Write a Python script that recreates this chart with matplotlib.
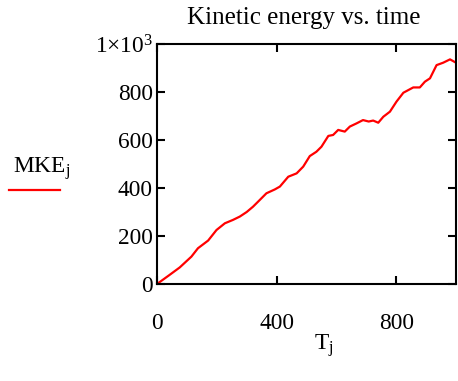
import numpy as np
import matplotlib
matplotlib.use("Agg")
import matplotlib.pyplot as plt

plt.rcParams['font.family'] = ['Liberation Serif', 'DejaVu Serif']
plt.rcParams['mathtext.fontset'] = 'custom'
plt.rcParams['mathtext.rm'] = 'Liberation Serif'
plt.rcParams['mathtext.it'] = 'Liberation Serif:italic'

# time T_j and mean kinetic energy MKE_j
T = [0, 40, 76, 115, 137, 171, 199, 227, 254, 277, 300, 321, 338, 366, 394, 411,
     439, 467, 489, 511, 533, 550, 573, 589, 606, 628, 645, 667, 689, 708, 723,
     740, 757, 779, 801, 824, 857, 879, 896, 913, 935, 957, 980, 1000]
MKE = [0, 36, 69, 114, 149, 181, 225, 253, 267, 281, 300, 322, 343, 378, 394, 406,
       447, 461, 489, 533, 551, 572, 617, 621, 642, 635, 656, 669, 683, 677, 681,
       672, 697, 718, 760, 797, 819, 819, 843, 857, 912, 922, 936, 922]

xticks = [0, 400, 800]
yticks = [0, 200, 400, 600, 800, 1000]
ylabels = ['0', '200', '400', '600', '800', r'1$\times$10$^3$']

W, H = 458, 381
fs = 16.8
fig = plt.figure(figsize=(W/100, H/100), dpi=100)
ax = fig.add_axes([157/W, 1-284/H, 299/W, 240/H])

ax.plot(T, MKE, color='red', lw=1.6)
ax.set_xlim(0, 1000)
ax.set_ylim(0, 1000)
ax.set_xticks(xticks)
ax.set_yticks(yticks)
ax.set_yticklabels(ylabels)
ax.tick_params(direction='in', length=6, width=1.5, top=True, right=True,
               labelsize=fs)
ax.tick_params(axis='y', pad=3)
ax.tick_params(axis='x', pad=21)
for s in ax.spines.values():
    s.set_linewidth(1.5)

fig.text(304/W, 1-24/H, 'Kinetic energy vs. time', fontsize=18, ha='center', va='baseline')
fig.text(314/W, 1-350/H, r'T$_{\mathrm{j}}$', fontsize=fs, ha='left', va='baseline')

# legend-like label at the left
fig.text(13/W, 1-173/H, r'MKE$_{\mathrm{j}}$', fontsize=fs, va='baseline', ha='left')
fig.add_artist(plt.Line2D([9/W, 60/W], [1-190/H, 1-190/H], color='red', lw=1.6))

fig.savefig('out.png', dpi=100)
